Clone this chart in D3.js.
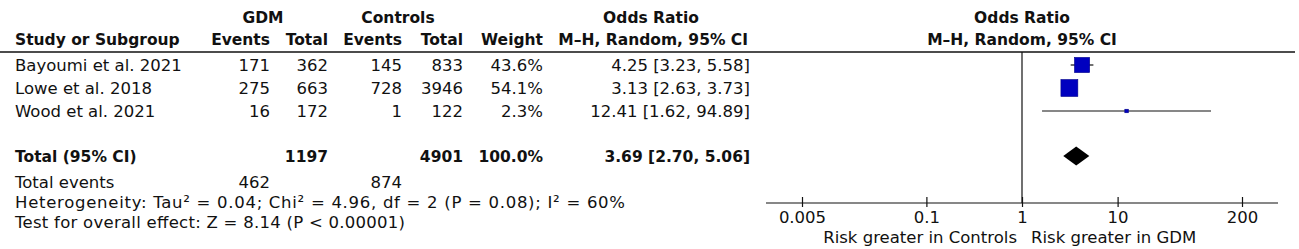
<!DOCTYPE html>
<html>
<head>
<meta charset="utf-8">
<script src="https://cdn.jsdelivr.net/npm/d3@7/dist/d3.min.js"></script>
<style>
  html, body { margin: 0; padding: 0; background: #fff; }
  svg { display: block; font-family: "DejaVu Sans", sans-serif; }
</style>
</head>
<body>
<svg id="chart" width="1299" height="249"></svg>
<script>
// ---- data ----
const studies = ["Bayoumi et al. 2021", "Lowe et al. 2018", "Wood et al. 2021"];
const gdmEvents = [171, 275, 16];
const gdmTotal = [362, 663, 172];
const ctrlEvents = [145, 728, 1];
const ctrlTotal = [833, 3946, 122];
const weights = [43.6, 54.1, 2.3];
const oddsRatio = [4.25, 3.13, 12.41];
const ciLow = [3.23, 2.63, 1.62];
const ciHigh = [5.58, 3.73, 94.89];
const totalLabel = "Total (95% CI)";
const totalGdm = 1197;
const totalCtrl = 4901;
const totalWeight = 100.0;
const totalOR = 3.69;
const totalLow = 2.70;
const totalHigh = 5.06;
const eventsGdm = 462;
const eventsCtrl = 874;
const heterogeneityText = "Heterogeneity: Tau\u00B2 = 0.04; Chi\u00B2 = 4.96, df = 2 (P = 0.08); I\u00B2 = 60%";
const overallText = "Test for overall effect: Z = 8.14 (P < 0.00001)";
const tickValues = [0.005, 0.1, 1, 10, 200];
const tickLabels = ["0.005", "0.1", "1", "10", "200"];
const favoursLeft = "Risk greater in Controls";
const favoursRight = "Risk greater in GDM";

// ---- layout ----
const svg = d3.select("#chart");
const FS = 16.5, BFS = 15.5, AFS = 16.5;
const x = d3.scaleLog().domain([0.005, 200]).range([802, 1242]);
const rowY = d3.scaleLinear().domain([0, 1]).range([65, 88]);
const totalY = 156;
const axisY = 203;
const headerLineY = 52;
const boxSize = d3.scaleSqrt().domain([0, 100]).range([0, 23]);
const blue = "#0000bf";

const colEnds = { gE: 270, gT: 328, cE: 402, cT: 463, w: 543, or: 750 };
const fmt2 = d3.format(".2f");
const orText = (o, l, h) => `${fmt2(o)} [${fmt2(l)}, ${fmt2(h)}]`;

function txt(xp, yp, s, anchor, bold, size) {
  return svg.append("text")
    .attr("x", xp).attr("y", yp)
    .attr("text-anchor", anchor || "start")
    .attr("font-size", size || (bold ? BFS : FS))
    .attr("font-weight", bold ? "bold" : "normal")
    .attr("fill", "#111")
    .text(s);
}

// headers
txt(263, 23, "GDM", "middle", true);
txt(398, 23, "Controls", "middle", true);
txt(651, 23, "Odds Ratio", "middle", true);
txt(x(1), 23, "Odds Ratio", "middle", true);
txt(15, 45, "Study or Subgroup", "start", true);
txt(colEnds.gE, 45, "Events", "end", true);
txt(colEnds.gT, 45, "Total", "end", true);
txt(colEnds.cE, 45, "Events", "end", true);
txt(colEnds.cT, 45, "Total", "end", true);
txt(colEnds.w, 45, "Weight", "end", true);
txt(colEnds.or - 2, 45, "M\u2013H, Random, 95% CI", "end", true);
txt(x(1), 45, "M\u2013H, Random, 95% CI", "middle", true);

svg.append("line").attr("x1", 0).attr("x2", 1295)
  .attr("y1", headerLineY).attr("y2", headerLineY)
  .attr("stroke", "#111").attr("stroke-width", 1.6);

// study rows
studies.forEach((s, i) => {
  const yb = rowY(i) + FS * 0.35;
  txt(15, yb, s);
  txt(colEnds.gE, yb, gdmEvents[i], "end");
  txt(colEnds.gT, yb, gdmTotal[i], "end");
  txt(colEnds.cE, yb, ctrlEvents[i], "end");
  txt(colEnds.cT, yb, ctrlTotal[i], "end");
  txt(colEnds.w, yb, d3.format(".1f")(weights[i]) + "%", "end");
  txt(colEnds.or, yb, orText(oddsRatio[i], ciLow[i], ciHigh[i]), "end");
});

// total row
const tb = totalY + FS * 0.35;
txt(15, tb, totalLabel, "start", true);
txt(colEnds.gT, tb, totalGdm, "end", true);
txt(colEnds.cT, tb, totalCtrl, "end", true);
txt(colEnds.w, tb, d3.format(".1f")(totalWeight) + "%", "end", true);
txt(colEnds.or, tb, orText(totalOR, totalLow, totalHigh), "end", true);

// footer
txt(15, 188, "Total events");
txt(colEnds.gE, 188, eventsGdm, "end");
txt(colEnds.cE, 188, eventsCtrl, "end");
txt(15, 208, heterogeneityText).attr("textLength", 610).attr("lengthAdjust", "spacing");
txt(15, 228, overallText).attr("textLength", 390).attr("lengthAdjust", "spacing");

// null line
svg.append("line").attr("x1", x(1)).attr("x2", x(1))
  .attr("y1", headerLineY).attr("y2", axisY)
  .attr("stroke", "#111").attr("stroke-width", 1.2);

// CI lines and boxes
const g = svg.append("g");
studies.forEach((s, i) => {
  g.append("line")
    .attr("x1", x(ciLow[i])).attr("x2", x(ciHigh[i]))
    .attr("y1", rowY(i)).attr("y2", rowY(i))
    .attr("stroke", "#111").attr("stroke-width", 1.2);
  const sz = boxSize(weights[i]);
  g.append("rect")
    .attr("x", x(oddsRatio[i]) - sz / 2).attr("y", rowY(i) - sz / 2)
    .attr("width", sz).attr("height", sz)
    .attr("fill", blue).attr("stroke", "#00008a").attr("stroke-width", 0.6);
});

// diamond
const dh = 9.5;
g.append("path")
  .attr("d", `M${x(totalLow)},${totalY} L${x(totalOR)},${totalY - dh} L${x(totalHigh)},${totalY} L${x(totalOR)},${totalY + dh} Z`)
  .attr("fill", "#000");

// axis
const axis = d3.axisBottom(x).tickValues(tickValues)
  .tickFormat((d, i) => tickLabels[i]).tickSizeInner(5).tickSizeOuter(0).tickPadding(5);
const ag = svg.append("g").attr("transform", `translate(0,${axisY})`).call(axis);
ag.select(".domain").remove();
ag.selectAll(".tick line").attr("y1", -6).attr("y2", 4).attr("stroke", "#111").attr("stroke-width", 1.2);
ag.selectAll(".tick text").attr("font-size", AFS).attr("font-family", "DejaVu Sans, sans-serif")
  .attr("fill", "#111").attr("y", 20).attr("dy", null);
ag.append("line").attr("x1", x.range()[0] - 36).attr("x2", x.range()[1] + 36)
  .attr("y1", 0).attr("y2", 0).attr("stroke", "#111").attr("stroke-width", 1.2);

txt(x(1) - 5, 243, favoursLeft, "end", false, AFS);
txt(x(1) + 9, 243, favoursRight, "start", false, AFS);
</script>
</body>
</html>
